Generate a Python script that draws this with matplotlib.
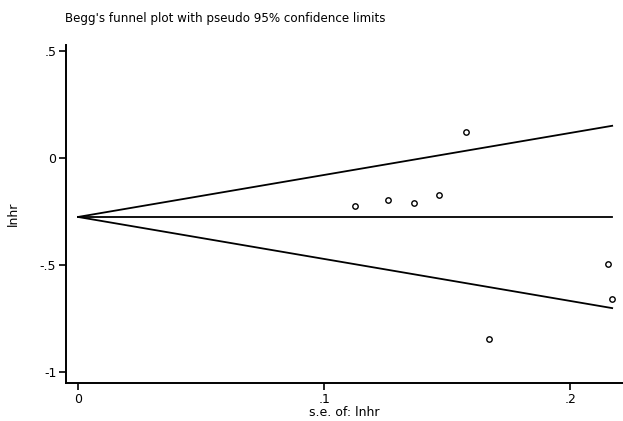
import matplotlib
matplotlib.use("Agg")
import matplotlib.pyplot as plt

# studies: standard error of lnhr and lnhr
se = [0.1126, 0.1260, 0.1364, 0.1469, 0.1576, 0.1670, 0.2156, 0.2171]
lnhr = [-0.225, -0.197, -0.210, -0.175, 0.120, -0.845, -0.494, -0.657]

pooled = -0.276
z = 1.96

xticks = [0, 0.1, 0.2]
xticklabels = ["0", ".1", ".2"]
yticks = [0.5, 0, -0.5, -1]
yticklabels = [".5", "0", "-.5", "-1"]

fig = plt.figure(figsize=(6.23, 4.21), dpi=100)
ax = fig.add_axes([0.106, 0.0903, 0.894, 0.803])

se_max = max(se)
xs = [0, se_max]
ax.plot(xs, [pooled, pooled], color="black", lw=1.3)
ax.plot(xs, [pooled, pooled + z * se_max], color="black", lw=1.3)
ax.plot(xs, [pooled, pooled - z * se_max], color="black", lw=1.3)

ax.plot(se, lnhr, linestyle="none", marker="o", markersize=3.9,
        markerfacecolor="white", markeredgecolor="black", markeredgewidth=1.0)

ax.set_xlim(-0.00488, 0.2215)
ax.set_ylim(-1.051, 0.527)
ax.set_xticks(xticks)
ax.set_xticklabels(xticklabels)
ax.set_yticks(yticks)
ax.set_yticklabels(yticklabels)
ax.tick_params(direction="out", length=5, width=1.2, labelsize=9, pad=2)

for s in ["top", "right"]:
    ax.spines[s].set_visible(False)
for s in ["left", "bottom"]:
    ax.spines[s].set_linewidth(1.4)

ax.set_xlabel("s.e. of: lnhr", fontsize=9, labelpad=0)
ax.set_ylabel("lnhr", fontsize=9, labelpad=14)

fig.text(0.104, 0.955, "Begg's funnel plot with pseudo 95% confidence limits",
         fontsize=8.6, ha="left", va="center")

fig.savefig("out.png", dpi=100)
